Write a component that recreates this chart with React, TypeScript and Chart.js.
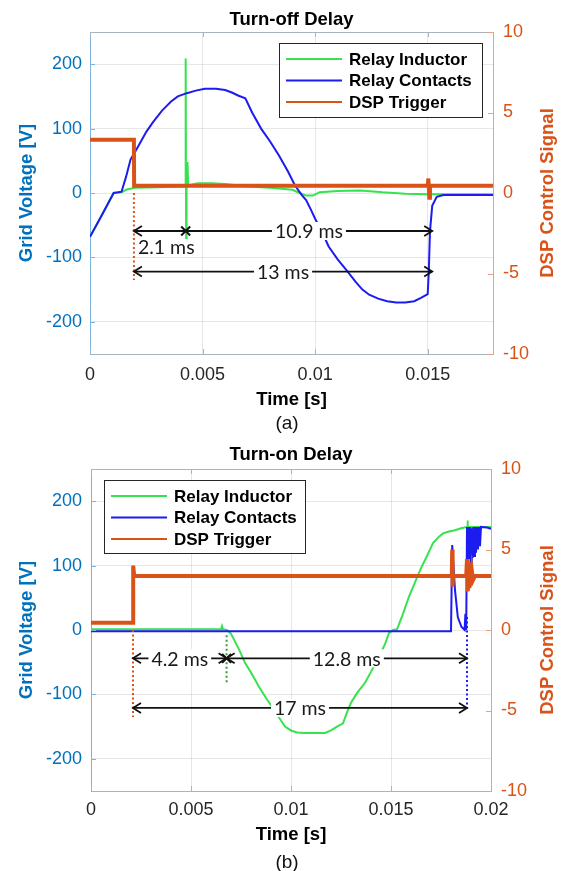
import React, { useEffect, useRef } from "react";
import { Chart, registerables } from "chart.js";

Chart.register(...registerables);

const FONT = '"Liberation Sans", Arial, Helvetica, sans-serif';
const LABEL_FONT = 'Lato, "Open Sans", sans-serif';
Chart.defaults.font.family = FONT;

const AX_BLUE = "#0072BD";
const ORANGE = "#D95319";
const GREEN = "#37e24f";
const DARK_GREEN = "#3a9a3a";
const BLUE = "#1c1cf0";
const GRID = "rgba(38,38,38,0.11)";
const FRAME = "#a9b4bf";
const LEFT_SPINE = "#7fb3dc";
const RIGHT_SPINE = "#e9a27f";

const seriesNames = ["Relay Inductor", "Relay Contacts", "DSP Trigger"];

// ---------- (a) Turn-off Delay ----------
const xTicksA = [0, 0.005, 0.01, 0.015];
const yTicksLeft = [-200, -100, 0, 100, 200];
const yTicksRight = [-10, -5, 0, 5, 10];

const tA_ind = [0, 0.0005, 0.00105, 0.0014, 0.0016, 0.002, 0.003, 0.004, 0.00423, 0.00425, 0.00427, 0.00429, 0.00433, 0.00436, 0.0048, 0.0054, 0.006, 0.007, 0.008, 0.009, 0.0093, 0.0096, 0.0099, 0.0102, 0.011, 0.012, 0.013, 0.014, 0.015, 0.0179];
const vA_ind = [-68, -36, 0, 1, 5, 8, 9, 10, 10, 209, -70, 5, 48, 12, 15, 15, 14, 10, 8, 5, 0, -4, -4, 1, 3, 4, 1, -1, -2, -2];

const tA_con = [0, 0.0005, 0.00105, 0.00125, 0.0014, 0.0016, 0.0018, 0.0021, 0.0025, 0.0028, 0.0032, 0.0036, 0.0039, 0.0043, 0.0047, 0.0051, 0.0056, 0.006, 0.0063, 0.0066, 0.0069, 0.0072, 0.0076, 0.008, 0.0084, 0.0088, 0.0091, 0.0094, 0.0096, 0.0098, 0.01, 0.0103, 0.0106, 0.011, 0.0114, 0.0118, 0.0121, 0.0124, 0.0128, 0.0132, 0.0136, 0.014, 0.0144, 0.0147, 0.015, 0.01505, 0.0151, 0.0152, 0.0154, 0.0157, 0.0179];
const vA_con = [-68, -36, 0, 1, 2, 25, 52, 70, 95, 110, 128, 142, 150, 155, 159, 162, 162, 160, 156, 151, 147, 125, 100, 80, 58, 33, 12, -3, -11, -25, -40, -60, -83, -103, -120, -138, -150, -158, -164, -168, -170, -170, -168, -163, -157, -120, -60, -20, -6, -3, -3];

const tA_dsp = [0, 0.00195, 0.00196, 0.015, 0.01503, 0.01507, 0.0151, 0.0179];
const sA_dsp = [3.3, 3.3, 0.45, 0.45, 0.9, -0.3, 0.45, 0.45];

const arrowsA = [
  { from: 0.00195, to: 0.00425, y: -59, headL: true, headR: false, text: "2.1 ms", below: true },
  { from: 0.00425, to: 0.0152, y: -59, headL: false, headR: true, text: "10.9 ms", below: false },
  { from: 0.00195, to: 0.0152, y: -122, headL: true, headR: true, text: "13 ms", below: false },
];
const crossesA = [{ x: 0.00425, y: -59 }];
const dottedA = [{ x: 0.00195, y1: 0, y2: -135, color: ORANGE }];

// ---------- (b) Turn-on Delay ----------
const xTicksB = [0, 0.005, 0.01, 0.015, 0.02];

const tB_ind = [0, 0.0065, 0.00655, 0.0066, 0.0068, 0.007, 0.0074, 0.0077, 0.008, 0.0084, 0.0088, 0.0091, 0.0094, 0.0097, 0.01, 0.0103, 0.0107, 0.0112, 0.0117, 0.012, 0.0123, 0.0126, 0.0128, 0.013, 0.0133, 0.0137, 0.014, 0.0144, 0.0147, 0.0149, 0.0151, 0.0153, 0.0156, 0.0159, 0.0162, 0.0165, 0.0168, 0.0171, 0.0174, 0.0176, 0.0179, 0.0182, 0.0185, 0.0188, 0.01882, 0.01885, 0.02];
const vB_ind = [1, 1, 6, 1, 0, -6, -30, -51, -66, -88, -108, -121, -136, -150, -156, -159, -160, -160, -160, -156, -150, -145, -128, -113, -98, -82, -65, -41, -22, -5, 0, 1, 25, 52, 74, 96, 115, 135, 145, 150, 153, 155, 158, 160, 170, 160, 160];

const tB_con = [0, 0.018, 0.01806, 0.0182, 0.01834, 0.01852, 0.01868, 0.01872, 0.01876, 0.0188, 0.01884, 0.01888, 0.01892, 0.01896, 0.019, 0.01904, 0.01908, 0.01912, 0.01916, 0.0192, 0.01925, 0.0193, 0.01935, 0.0194, 0.01945, 0.0195, 0.0198, 0.02];
const vB_con = [-2, -2, 132, 62, 20, 5, 0, 25, 0, 160, 105, 160, 110, 160, 105, 158, 112, 160, 115, 160, 120, 160, 125, 160, 130, 160, 159, 157];

const tB_dsp = [0, 0.0021, 0.00211, 0.00216, 0.01804, 0.01806, 0.01808, 0.0181, 0.01876, 0.0188, 0.01884, 0.01888, 0.01892, 0.01896, 0.019, 0.01905, 0.0191, 0.0192, 0.02];
const sB_dsp = [0.45, 0.45, 4.0, 3.35, 3.35, 5.0, 2.7, 3.35, 3.35, 4.4, 2.4, 4.2, 2.6, 3.9, 2.9, 3.6, 3.1, 3.35, 3.35];

const arrowsB = [
  { from: 0.0021, to: 0.00678, y: -44, headL: true, headR: true, text: "4.2 ms", below: false },
  { from: 0.00678, to: 0.0188, y: -44, headL: true, headR: true, text: "12.8 ms", below: false },
  { from: 0.0021, to: 0.0188, y: -121, headL: true, headR: true, text: "17 ms", below: false },
];
const crossesB = [{ x: 0.00678, y: -44 }];
const dottedB = [
  { x: 0.0021, y1: 0, y2: -135, color: ORANGE },
  { x: 0.00678, y1: -8, y2: -82, color: DARK_GREEN },
  { x: 0.0188, y1: 20, y2: -122, color: BLUE },
];

const zip = (xs: number[], ys: number[]) => xs.map((x, i) => ({ x, y: ys[i] }));

const delayPlugin = {
  id: "delay",
  afterDraw(chart: any, _args: any, o: any) {
    const { ctx, chartArea: ca } = chart;
    const xs = chart.scales.x;
    const yl = chart.scales.y;
    const yr = chart.scales.y1;
    const line = (x1: number, y1: number, x2: number, y2: number) => {
      ctx.beginPath();
      ctx.moveTo(x1, y1);
      ctx.lineTo(x2, y2);
      ctx.stroke();
    };
    ctx.save();
    // frame top + inward ticks
    ctx.lineWidth = 1;
    ctx.strokeStyle = FRAME;
    const topY = Math.round(ca.top) + 0.5;
    line(ca.left, topY, ca.right, topY);
    const TL = 5;
    for (const t of xs.ticks) {
      const px = Math.round(xs.getPixelForValue(t.value)) + 0.5;
      line(px, ca.bottom, px, ca.bottom - TL);
      line(px, ca.top, px, ca.top + TL);
    }
    ctx.strokeStyle = LEFT_SPINE;
    for (const t of yl.ticks) {
      const py = Math.round(yl.getPixelForValue(t.value)) + 0.5;
      line(ca.left, py, ca.left + TL, py);
    }
    ctx.strokeStyle = RIGHT_SPINE;
    for (const t of yr.ticks) {
      const py = Math.round(yr.getPixelForValue(t.value)) + 0.5;
      line(ca.right - TL, py, ca.right, py);
    }
    // dotted marker lines
    ctx.lineWidth = 2;
    ctx.setLineDash([2, 2.5]);
    for (const d of o.dotted) {
      ctx.strokeStyle = d.color;
      const px = xs.getPixelForValue(d.x);
      line(px, yl.getPixelForValue(d.y1), px, yl.getPixelForValue(d.y2));
    }
    ctx.setLineDash([]);
    // arrows
    ctx.strokeStyle = "#111";
    ctx.lineWidth = 1.8;
    const head = (x: number, y: number, dir: number) => {
      ctx.beginPath();
      ctx.moveTo(x + dir * 8, y - 5);
      ctx.lineTo(x, y);
      ctx.lineTo(x + dir * 8, y + 5);
      ctx.stroke();
    };
    for (const a of o.arrows) {
      const x1 = xs.getPixelForValue(a.from);
      const x2 = xs.getPixelForValue(a.to);
      const y = yl.getPixelForValue(a.y);
      line(x1, y, x2, y);
      if (a.headL) head(x1, y, 1);
      if (a.headR) head(x2, y, -1);
    }
    ctx.lineWidth = 2;
    for (const c of o.crosses) {
      const px = xs.getPixelForValue(c.x);
      const py = yl.getPixelForValue(c.y);
      line(px - 4.5, py - 4.5, px + 4.5, py + 4.5);
      line(px - 4.5, py + 4.5, px + 4.5, py - 4.5);
    }
    // labels
    ctx.font = `19.5px ${LABEL_FONT}`;
    ctx.textBaseline = "middle";
    for (const a of o.arrows) {
      const x1 = xs.getPixelForValue(a.from);
      const x2 = xs.getPixelForValue(a.to);
      const y = yl.getPixelForValue(a.y);
      if (a.below) {
        ctx.textAlign = "left";
        ctx.fillStyle = "#1a1a1a";
        ctx.fillText(a.text, x1 + 4, y + 17);
      } else {
        const cx = (x1 + x2) / 2;
        const w = ctx.measureText(a.text).width;
        ctx.fillStyle = "#fff";
        ctx.fillRect(cx - w / 2 - 3, y - 9, w + 6, 18);
        ctx.fillStyle = "#1a1a1a";
        ctx.textAlign = "center";
        ctx.fillText(a.text, cx, y + 1);
      }
    }
    // legend
    const L = o.legend;
    const bx = L.anchor === "right" ? ca.right - L.dx - L.w : ca.left + L.dx;
    const by = ca.top + L.dy;
    ctx.fillStyle = "#fff";
    ctx.fillRect(bx, by, L.w, L.h);
    ctx.strokeStyle = "#262626";
    ctx.lineWidth = 1;
    ctx.strokeRect(Math.round(bx) + 0.5, Math.round(by) + 0.5, L.w, L.h);
    const rows = [16, 37.5, 59];
    const colors = [GREEN, BLUE, ORANGE];
    ctx.font = `bold 17px ${FONT}`;
    ctx.textAlign = "left";
    ctx.textBaseline = "middle";
    seriesNames.forEach((name, i) => {
      const ry = by + rows[i];
      ctx.strokeStyle = colors[i];
      ctx.lineWidth = 2;
      line(bx + 7, ry, bx + 63, ry);
      ctx.fillStyle = "#000";
      ctx.fillText(name, bx + 70, ry + 1);
    });
    // title
    ctx.font = `bold 18.5px ${FONT}`;
    ctx.fillStyle = "#000";
    ctx.textAlign = "center";
    ctx.fillText(o.title, (ca.left + ca.right) / 2, 20);
    // right axis title (reads bottom to top)
    ctx.translate(548, (ca.top + ca.bottom) / 2);
    ctx.rotate(-Math.PI / 2);
    ctx.font = `bold 18.5px ${FONT}`;
    ctx.fillStyle = ORANGE;
    ctx.fillText("DSP Control Signal", 0, 0);
    ctx.restore();
  },
};

function buildConfig(s: any): any {
  return {
    type: "line",
    data: {
      datasets: [
        { label: seriesNames[0], data: s.ind, borderColor: GREEN, borderWidth: 2, pointRadius: 0, yAxisID: "y", order: 3 },
        { label: seriesNames[1], data: s.con, borderColor: BLUE, borderWidth: 2, pointRadius: 0, yAxisID: "y", order: 2 },
        { label: seriesNames[2], data: s.dsp, borderColor: ORANGE, borderWidth: 4, pointRadius: 0, yAxisID: "y1", order: 1 },
      ],
    },
    options: {
      responsive: false,
      animation: false,
      events: [],
      layout: { padding: { top: s.top, left: 0, right: 0, bottom: 0 } },
      plugins: {
        legend: { display: false },
        title: { display: false },
        tooltip: { enabled: false },
        delay: { title: s.title, arrows: s.arrows, crosses: s.crosses, dotted: s.dotted, legend: s.legend },
      },
      scales: {
        x: {
          type: "linear",
          min: 0,
          max: s.xMax,
          afterBuildTicks: (ax: any) => { ax.ticks = s.xTicks.map((v: number) => ({ value: v })); },
          afterFit: (ax: any) => { ax.height = s.xH; },
          ticks: { color: "#262626", font: { size: 18 }, padding: s.xTickPad, maxRotation: 0, autoSkip: false, callback: (v: any) => String(v) },
          grid: { color: GRID, drawTicks: false },
          border: { color: FRAME },
          title: { display: true, text: "Time [s]", color: "#000", font: { size: 18.5, weight: "bold" }, padding: { top: 0, bottom: s.xTitlePad } },
        },
        y: {
          type: "linear",
          position: "left",
          min: -250,
          max: 250,
          afterBuildTicks: (ax: any) => { ax.ticks = yTicksLeft.map((v) => ({ value: v })); },
          afterFit: (ax: any) => { ax.width = s.leftW; },
          ticks: { color: AX_BLUE, font: { size: 18 }, padding: s.yTickPad },
          grid: { color: GRID, drawTicks: false },
          border: { color: LEFT_SPINE },
          title: { display: true, text: "Grid Voltage [V]", color: AX_BLUE, font: { size: 18.5, weight: "bold" }, padding: { top: 16, bottom: 0 } },
        },
        y1: {
          type: "linear",
          position: "right",
          min: -10,
          max: 10,
          afterBuildTicks: (ax: any) => { ax.ticks = yTicksRight.map((v) => ({ value: v })); },
          afterFit: (ax: any) => { ax.width = s.rightW; },
          ticks: { color: ORANGE, font: { size: 18 }, padding: 10 },
          grid: { display: false, drawTicks: false },
          border: { color: RIGHT_SPINE },
        },
      },
    },
    plugins: [delayPlugin],
  };
}

const specA = {
  ind: zip(tA_ind, vA_ind),
  con: zip(tA_con, vA_con),
  dsp: zip(tA_dsp, sA_dsp),
  xMax: 0.0179,
  xTicks: xTicksA,
  top: 32,
  leftW: 90,
  rightW: 72,
  xH: 81,
  xTickPad: 10,
  xTitlePad: 24,
  yTickPad: 8,
  title: "Turn-off Delay",
  arrows: arrowsA,
  crosses: crossesA,
  dotted: dottedA,
  legend: { anchor: "right", dx: 11, dy: 11, w: 203, h: 74 },
};

const specB = {
  ind: zip(tB_ind, vB_ind),
  con: zip(tB_con, vB_con),
  dsp: zip(tB_dsp, sB_dsp),
  xMax: 0.02,
  xTicks: xTicksB,
  top: 34,
  leftW: 91,
  rightW: 74,
  xH: 80,
  xTickPad: 8,
  xTitlePad: 25,
  yTickPad: 9,
  title: "Turn-on Delay",
  arrows: arrowsB,
  crosses: crossesB,
  dotted: dottedB,
  legend: { anchor: "left", dx: 13, dy: 11, w: 201, h: 73 },
};

function DelayChart({ spec, top, height }: { spec: any; top: number; height: number }) {
  const ref = useRef<HTMLCanvasElement>(null);
  useEffect(() => {
    const chart = new Chart(ref.current as HTMLCanvasElement, buildConfig(spec));
    return () => chart.destroy();
  }, []);
  return (
    <canvas
      ref={ref}
      width={565}
      height={height}
      style={{ position: "absolute", left: 0, top, width: 565, height, display: "block" }}
    />
  );
}

const captionStyle = (top: number): React.CSSProperties => ({
  position: "absolute",
  left: 260,
  width: 54,
  top,
  textAlign: "center",
  font: `19px ${FONT}`,
  lineHeight: "22px",
  color: "#111",
});

export default function App() {
  return (
    <div style={{ position: "absolute", left: 0, top: 0, width: 565, height: 871, background: "#fff", overflow: "hidden" }}>
      <DelayChart spec={specA} top={0} height={435} />
      <div style={captionStyle(412)}>(a)</div>
      <DelayChart spec={specB} top={435} height={436} />
      <div style={captionStyle(851)}>(b)</div>
    </div>
  );
}
